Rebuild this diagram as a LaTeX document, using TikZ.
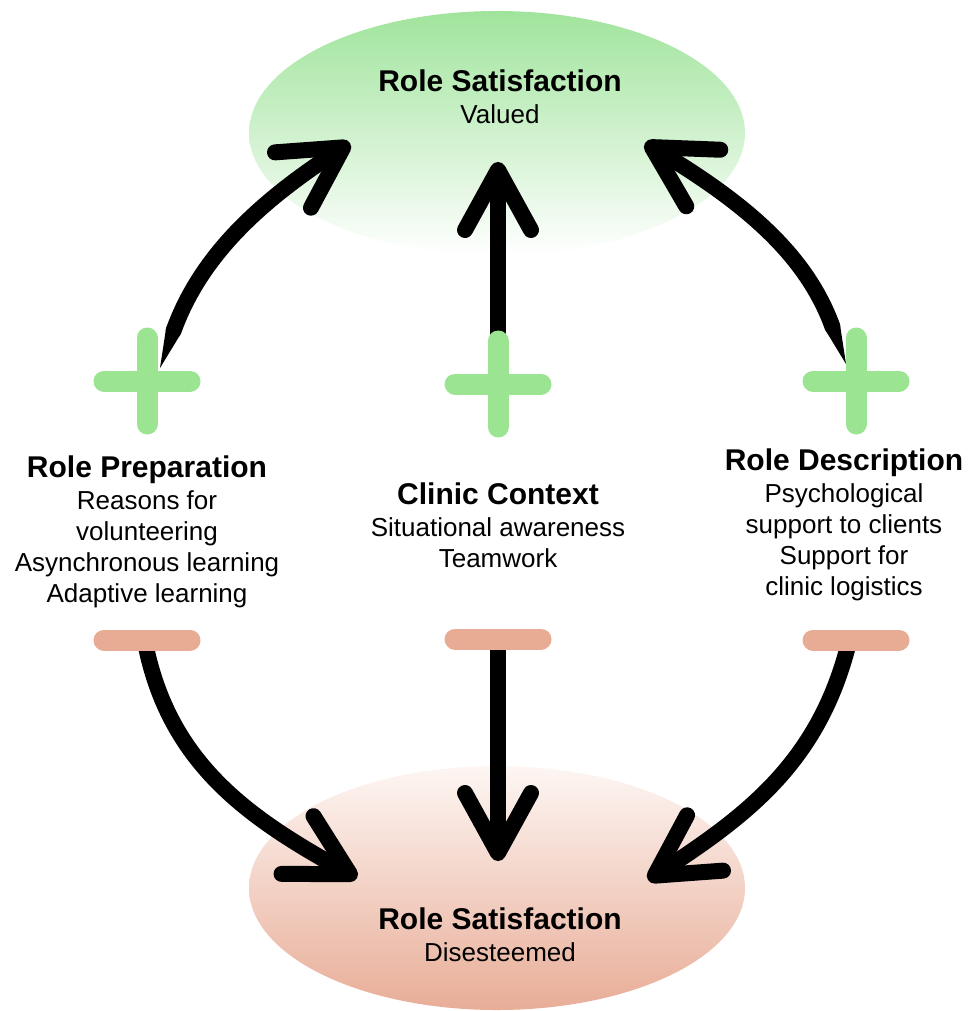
\documentclass[tikz,border=0pt]{standalone}
\usepackage{fontspec}
\setmainfont{Liberation Sans}
\usetikzlibrary{arrows.meta,shapes.geometric,calc}

\definecolor{plusgreen}{HTML}{9AE492}
\definecolor{minussalmon}{HTML}{E8AB94}
\definecolor{valuedtop}{HTML}{A0E49C}
\definecolor{esteembottom}{HTML}{E8AD97}
\definecolor{esteemtop}{HTML}{FDF6F3}

\tikzset{
  oval/.style={ellipse, draw=none, inner sep=0pt, minimum width=496pt, minimum height=244pt},
  shaft/.style={line width=16pt, line cap=round, line join=round, draw=black},
  headed/.style={-{Straight Barb[length=60pt, width=66pt, round]}},
  plusbar/.style={line width=21pt, line cap=round, draw=plusgreen},
  minusbar/.style={line width=21pt, line cap=round, draw=minussalmon},
  block/.style={align=center, inner sep=0pt, anchor=north, font=\fontsize{26}{31}\selectfont},
}
\newcommand{\heading}[1]{{\bfseries\fontsize{30}{31}\selectfont #1}}

\begin{document}
\begin{tikzpicture}[x=1pt, y=-1pt]
  \useasboundingbox (0,0) rectangle (969,1011);

  % outcome ellipses
  \node[oval, top color=valuedtop, bottom color=white] (valued) at (497,133) {};
  \node[oval, top color=esteemtop, bottom color=esteembottom] (disesteemed) at (497,888) {};

  % factor markers
  \coordinate (plusL) at (147,381);
  \coordinate (plusC) at (498,384);
  \coordinate (plusR) at (856,381);
  \coordinate (minusL) at (147,640);
  \coordinate (minusC) at (498,639);
  \coordinate (minusR) at (856,640);

  % connector ends
  \coordinate (tlTail) at (160,368);
  \coordinate (tlTip) at (350,143);
  \coordinate (tcTip) at (498,162);
  \coordinate (trTail) at (846,364);
  \coordinate (trTip) at (645,143);
  \coordinate (blTail) at (145,642);
  \coordinate (blTip) at (357,878);
  \coordinate (bcTip) at (498,861);
  \coordinate (brTail) at (849,642);
  \coordinate (brTip) at (648,880);

  % positive links: tapered tail wedge, then the full-width shaft
  \coordinate (tlStart) at ($(tlTail)+(70:40pt)$);
  \fill ($(tlStart)+(160:8pt)$) -- (tlTail) -- ($(tlStart)+(-20:8pt)$) -- cycle;
  \draw[shaft, headed, shorten <=40pt] (tlTail) to[out=70,in=213] (tlTip);

  \coordinate (trStart) at ($(trTail)+(110:40pt)$);
  \fill ($(trStart)+(20:8pt)$) -- (trTail) -- ($(trStart)+(200:8pt)$) -- cycle;
  \draw[shaft, headed, shorten <=40pt] (trTail) to[out=110,in=-31] (trTip);

  \draw[shaft, headed] (plusC) -- (tcTip);

  % negative links
  \draw[shaft, headed] (blTail) to[out=-79,in=151] (blTip);
  \draw[shaft, headed] (minusC) -- (bcTip);
  \draw[shaft, headed] (brTail) to[out=-104,in=33] (brTip);

  % plus signs
  \foreach \p in {plusL,plusC,plusR}{
    \draw[plusbar] ([xshift=-43pt]\p) -- ([xshift=43pt]\p);
    \draw[plusbar] ([yshift=43pt]\p) -- ([yshift=-43pt]\p);
  }
  % minus signs
  \foreach \m in {minusL,minusC,minusR}{
    \draw[minusbar] ([xshift=-43pt]\m) -- ([xshift=43pt]\m);
  }

  % labels
  \node[block] (valuedText) at (500,70) {\heading{Role Satisfaction}\\[1pt] Valued};
  \node[block] (esteemText) at (500,908) {\heading{Role Satisfaction}\\[1pt] Disesteemed};
  \node[block] (prep) at (147,456) {\heading{Role Preparation}\\[1pt] Reasons for\\ volunteering\\ Asynchronous learning\\ Adaptive learning};
  \node[block] (context) at (498,483) {\heading{Clinic Context}\\[1pt] Situational awareness\\ Teamwork};
  \node[block] (descr) at (844,449) {\heading{Role Description}\\[1pt] Psychological\\ support to clients\\ Support for\\ clinic logistics};
\end{tikzpicture}
\end{document}
